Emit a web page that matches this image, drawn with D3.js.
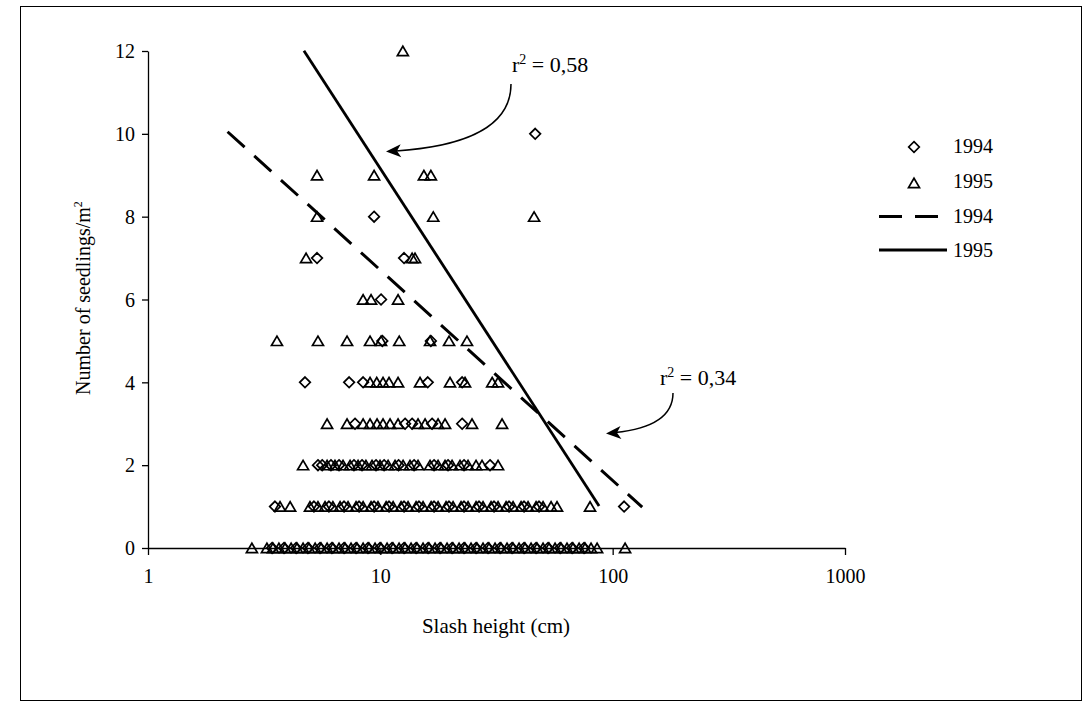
<!DOCTYPE html>
<html>
<head>
<meta charset="utf-8">
<script src="https://cdn.jsdelivr.net/npm/d3@7"></script>
<style>
  body { margin: 0; background: #fff; }
  svg text { font-family: "Liberation Serif", "Times New Roman", serif; fill: #000; }
</style>
</head>
<body>
<svg id="chart" width="1088" height="721"></svg>
<script>
// Axis ticks
const xTicks = [1, 10, 100, 1000];
const yTicks = [0, 2, 4, 6, 8, 10, 12];

// Slash heights (cm) per seedling count, 1994 plots
const rows1994 = [
  [10, [46.4]],
  [8, [9.40]],
  [7, [5.34, 12.65]],
  [6, [10.07]],
  [5, [10.2, 16.5]],
  [4, [4.74, 7.34, 8.43, 16.0, 22.5]],
  [3, [7.78, 12.78, 13.7, 16.7, 22.5]],
  [2, [5.39, 5.62, 6.13, 6.64, 7.70, 8.34, 9.58, 10.38, 11.98, 13.97, 17.03, 19.56, 22.92, 29.66]],
  [1, [3.52, 5.18, 6.01, 6.98, 8.10, 9.40, 10.90, 12.65, 14.67, 17.03, 19.75, 22.92, 26.6, 30.86,
       35.81, 41.55, 48.2, 112]],
  [0, [3.42, 3.85, 4.34, 4.88, 5.50, 6.19, 6.98, 7.86, 8.85, 9.97, 11.23, 12.65, 14.25, 16.05,
       18.07, 20.36, 22.92, 25.82, 29.08, 32.76, 36.9, 41.55, 46.8, 52.7, 59.4, 66.9, 75.3]]
];

// Slash heights (cm) per seedling count, 1995 plots
const rows1995 = [
  [12, [12.5]],
  [9, [5.34, 9.40, 15.4, 16.5]],
  [8, [5.34, 16.9, 45.9]],
  [7, [4.79, 13.7, 14.1]],
  [6, [8.43, 9.12, 11.92]],
  [5, [3.59, 5.39, 7.19, 9.03, 10.07, 12.06, 16.37, 19.76, 23.6]],
  [4, [9.03, 9.65, 10.27, 10.9, 11.92, 14.82, 19.95, 23.15, 30.3, 32.1]],
  [3, [5.90, 7.19, 8.43, 9.03, 9.68, 10.27, 11.01, 11.92, 14.53, 15.58, 17.72, 18.99, 24.81, 33.41]],
  [2, [4.65, 5.90, 6.38, 6.91, 7.41, 8.02, 8.67, 9.21, 9.97, 10.80, 11.57, 12.53, 13.42, 14.53,
       16.37, 17.72, 18.99, 20.36, 22.03, 23.85, 25.82, 27.40, 32.11]],
  [1, [3.70, 4.09, 4.98, 5.39, 5.78, 6.25, 6.71, 7.26, 7.86, 8.43, 9.12, 9.77, 10.59, 11.35, 12.28,
       13.16, 14.25, 15.27, 16.54, 17.72, 19.18, 20.56, 22.25, 23.85, 25.82, 27.67, 29.96, 32.11,
       34.77, 37.26, 40.34, 43.23, 46.80, 50.16, 54.31, 57.6, 79.9]],
  [0, [2.80, 3.25, 3.45, 3.66, 3.89, 4.13, 4.38, 4.65, 4.93, 5.24, 5.56, 5.90, 6.25, 6.64, 7.05,
       7.48, 7.94, 8.43, 8.94, 9.49, 10.07, 10.69, 11.35, 12.04, 12.78, 13.56, 14.39, 15.27, 16.21,
       17.2, 18.25, 19.37, 20.56, 21.82, 23.15, 24.57, 26.07, 27.67, 29.37, 31.17, 33.08, 35.1,
       37.26, 39.54, 41.97, 44.54, 47.27, 50.16, 53.24, 56.5, 59.96, 63.6, 67.5, 71.7, 76.07, 80.7,
       85.7, 113.1]]
];

// Logarithmic trend lines: n = a + b * log10(height)
const trendYears = ["1994", "1995"];
const trendIntercepts = [11.79, 17.81];
const trendSlopes = [-5.08, -8.65];
const trendFrom = [2.2, 4.69];
const trendTo = [134, 87.4];
const trendR2 = ["0,34", "0,58"];

const legendLabels = ["1994", "1995", "1994", "1995"];

const svg = d3.select("#chart");

// frame around the figure
svg.append("rect")
  .attr("x", 20.5).attr("y", 6.5).attr("width", 1061).attr("height", 694)
  .attr("fill", "none").attr("stroke", "#000").attr("stroke-width", 1);

const x = d3.scaleLog().domain([1, 1000]).range([148, 845]);
const y = d3.scaleLinear().domain([0, 12]).range([548, 51]);

// axes
const xAxis = svg.append("g")
  .attr("transform", `translate(0,${y(0)})`)
  .call(d3.axisBottom(x).tickValues(xTicks).tickFormat(d3.format("d"))
    .tickSize(7).tickSizeOuter(0).tickPadding(14));
const yAxis = svg.append("g")
  .attr("transform", `translate(${x(1)},0)`)
  .call(d3.axisLeft(y).tickValues(yTicks).tickSize(6).tickSizeOuter(0).tickPadding(7));

[xAxis, yAxis].forEach(g => {
  g.selectAll("path.domain").attr("stroke", "#000").attr("stroke-width", 1.3);
  g.selectAll(".tick line").attr("stroke", "#000").attr("stroke-width", 1.3);
  g.selectAll(".tick text")
    .attr("fill", "#000")
    .style("font-family", '"Liberation Serif", serif')
    .style("font-size", "20px");
});
yAxis.selectAll(".tick text").attr("dy", "0.34em");

// axis titles
svg.append("text")
  .attr("x", 496).attr("y", 633)
  .attr("text-anchor", "middle")
  .style("font-size", "21px")
  .text("Slash height (cm)");

const yTitle = svg.append("text")
  .attr("transform", "translate(90,298) rotate(-90)")
  .attr("text-anchor", "middle")
  .style("font-size", "20px");
yTitle.append("tspan").text("Number of seedlings/m");
yTitle.append("tspan").attr("dy", "-8").style("font-size", "12px").text("2");

// marker shapes
const diamondPath = "M0,-5.3L5.3,0L0,5.3L-5.3,0Z";
const trianglePath = "M0,-4.8L5.5,4.6L-5.5,4.6Z";

function flatten(rows) {
  const out = [];
  rows.forEach(([n, hs]) => hs.forEach(h => out.push([h, n])));
  return out;
}

const markers = svg.append("g");
markers.selectAll("path.d94")
  .data(flatten(rows1994))
  .join("path")
  .attr("class", "d94")
  .attr("d", diamondPath)
  .attr("transform", d => `translate(${x(d[0])},${y(d[1])})`)
  .attr("fill", "none").attr("stroke", "#000").attr("stroke-width", 1.7);

markers.selectAll("path.t95")
  .data(flatten(rows1995))
  .join("path")
  .attr("class", "t95")
  .attr("d", trianglePath)
  .attr("transform", d => `translate(${x(d[0])},${y(d[1])})`)
  .attr("fill", "none").attr("stroke", "#000").attr("stroke-width", 1.7);

// trend lines
const trendStyles = [
  { dash: "23,13", width: 3 },
  { dash: null, width: 2.8 }
];
trendYears.forEach((yr, i) => {
  const ends = [trendFrom[i], trendTo[i]].map(h => [h, trendIntercepts[i] + trendSlopes[i] * Math.log10(h)]);
  svg.append("line")
    .attr("x1", x(ends[0][0])).attr("y1", y(ends[0][1]))
    .attr("x2", x(ends[1][0])).attr("y2", y(ends[1][1]))
    .attr("stroke", "#000")
    .attr("stroke-width", trendStyles[i].width)
    .attr("stroke-dasharray", trendStyles[i].dash);
});

// r² annotations with curved arrows
function r2Label(px, py, value) {
  const t = svg.append("text").attr("x", px).attr("y", py).style("font-size", "22px");
  t.append("tspan").text("r");
  t.append("tspan").attr("dy", "-8").style("font-size", "14px").text("2");
  t.append("tspan").attr("dy", "8").text(" = " + value);
}
function arrow(d, tip, angle) {
  svg.append("path").attr("d", d).attr("fill", "none").attr("stroke", "#000").attr("stroke-width", 1.5);
  svg.append("path")
    .attr("d", "M0,0L15,-6.5L11,0L15,6.5Z")
    .attr("transform", `translate(${tip[0]},${tip[1]}) rotate(${angle})`)
    .attr("fill", "#000");
}
r2Label(512, 72, trendR2[1]);
arrow("M511,84C511,125 470,146 396,151", [386, 151.5], -3);
r2Label(660, 385, trendR2[0]);
arrow("M673,393C673,418 650,429 615,432.5", [606, 433.5], -4);

// legend
const lg = svg.append("g");
lg.append("path").attr("d", diamondPath).attr("transform", "translate(914,147)")
  .attr("fill", "none").attr("stroke", "#000").attr("stroke-width", 1.7);
lg.append("path").attr("d", trianglePath).attr("transform", "translate(914,183)")
  .attr("fill", "none").attr("stroke", "#000").attr("stroke-width", 1.7);
lg.append("line").attr("x1", 879).attr("x2", 940).attr("y1", 216.5).attr("y2", 216.5)
  .attr("stroke", "#000").attr("stroke-width", 3.2).attr("stroke-dasharray", "23,13");
lg.append("line").attr("x1", 879).attr("x2", 947).attr("y1", 250).attr("y2", 250)
  .attr("stroke", "#000").attr("stroke-width", 2.8);
[153, 188, 223, 257].forEach((by, i) => {
  lg.append("text").attr("x", 953).attr("y", by).style("font-size", "20px").text(legendLabels[i]);
});
</script>
</body>
</html>
